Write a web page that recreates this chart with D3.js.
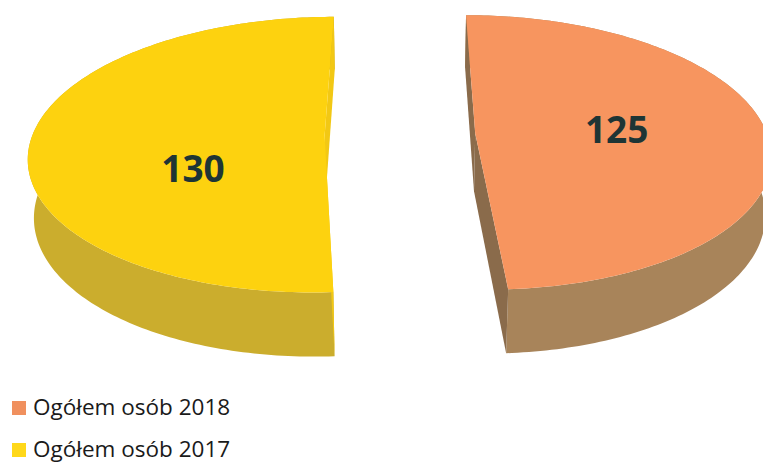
<!DOCTYPE html>
<html>
<head>
<meta charset="utf-8">
<script src="https://cdn.jsdelivr.net/npm/d3@7"></script>
<style>
  body { margin: 0; background: #fff; }
</style>
</head>
<body>
<div id="chart"></div>
<script>
// chart data
var categories = ["Ogółem osób 2018", "Ogółem osób 2017"];
var values = [125, 130];
var valueLabels = ["125", "130"];

// colours (top face, outer wall, cut face)
var topColors  = ["#F7955F", "#FDD20F"];
var sideColors = ["#A8845A", "#CBAD2D"];
var faceColors = ["#8A6B4B", "#F2C814"];
var legendColors = ["#F0905E", "#FFD81A"];

var width = 763, height = 465;

// 3d view settings
var tilt = 27.5 * Math.PI / 180,
    persp = 0.139,
    thick = 0.227,
    explode = 0.258;
var cosT = Math.cos(tilt), sinT = Math.sin(tilt), dist = cosT / persp;

// projected units -> pixels
var x = d3.scaleLinear().domain([0, 1]).range([400, 692]);
var y = d3.scaleLinear().domain([0, 1]).range([134.4, 134.4 - 292]);

function project(X, Y, Z) {
  var depth = dist + Y * cosT - Z * sinT;
  var u = X * dist / depth;
  var v = (Y * sinT + Z * cosT) * dist / depth;
  return [x(u), y(v)];
}

var svg = d3.select("#chart")
  .append("svg")
  .attr("width", width)
  .attr("height", height)
  .style("font-family", "'Open Sans', 'DejaVu Sans', sans-serif");

var slices = d3.pie().sort(null).value(function(d) { return d; })(values);
var line = d3.line();

// build the polygons for each slice
slices.forEach(function(s) {
  var mid = (s.startAngle + s.endAngle) / 2;
  s.ox = explode * Math.sin(mid);
  s.oy = explode * Math.cos(mid);
  var n = Math.ceil((s.endAngle - s.startAngle) / (Math.PI / 180));
  s.angles = d3.range(n + 1).map(function(i) {
    return s.startAngle + (s.endAngle - s.startAngle) * i / n;
  });
  s.rim = function(a, z) { return project(s.ox + Math.sin(a), s.oy + Math.cos(a), z); };
  s.center = function(z) { return project(s.ox, s.oy, z); };
});

// outer walls
svg.append("g").selectAll("path")
  .data(slices)
  .enter()
  .append("path")
  .attr("d", function(s) {
    var pts = s.angles.map(function(a) { return s.rim(a, 0); })
      .concat(s.angles.slice().reverse().map(function(a) { return s.rim(a, -thick); }));
    return line(pts) + "Z";
  })
  .style("fill", function(s, i) { return sideColors[i]; });

// cut faces
svg.append("g").selectAll("g")
  .data(slices)
  .enter()
  .append("g")
  .each(function(s, i) {
    d3.select(this).selectAll("path")
      .data([s.startAngle, s.endAngle])
      .enter()
      .append("path")
      .attr("d", function(a) {
        return line([s.center(0), s.rim(a, 0), s.rim(a, -thick), s.center(-thick)]) + "Z";
      })
      .style("fill", faceColors[i]);
  });

// top faces
svg.append("g").selectAll("path")
  .data(slices)
  .enter()
  .append("path")
  .attr("d", function(s) {
    var pts = [s.center(0)].concat(s.angles.map(function(a) { return s.rim(a, 0); }));
    return line(pts) + "Z";
  })
  .style("fill", function(s, i) { return topColors[i]; });

// value labels
var labelR = 0.49;
var labelNudge = [[-1, -3], [12, 30]];
svg.append("g").selectAll("text")
  .data(slices)
  .enter()
  .append("text")
  .attr("x", function(s, i) {
    var mid = (s.startAngle + s.endAngle) / 2;
    return project(s.ox + labelR * Math.sin(mid), s.oy + labelR * Math.cos(mid), 0)[0] + labelNudge[i][0];
  })
  .attr("y", function(s, i) {
    var mid = (s.startAngle + s.endAngle) / 2;
    return project(s.ox + labelR * Math.sin(mid), s.oy + labelR * Math.cos(mid), 0)[1] + labelNudge[i][1];
  })
  .attr("text-anchor", "middle")
  .attr("dominant-baseline", "central")
  .style("font-size", "37px")
  .style("font-weight", "bold")
  .style("fill", "#1E3535")
  .text(function(s, i) { return valueLabels[i]; });

// legend
var legend = svg.append("g").selectAll("g")
  .data(categories)
  .enter()
  .append("g")
  .attr("transform", function(d, i) { return "translate(12," + (401 + i * 42) + ")"; });

legend.append("rect")
  .attr("width", 14)
  .attr("height", 14)
  .style("fill", function(d, i) { return legendColors[i]; });

legend.append("text")
  .attr("x", 21)
  .attr("y", 14)
  .style("font-size", "22.5px")
  .style("fill", "#1a1a1a")
  .text(function(d) { return d; });
</script>
</body>
</html>
